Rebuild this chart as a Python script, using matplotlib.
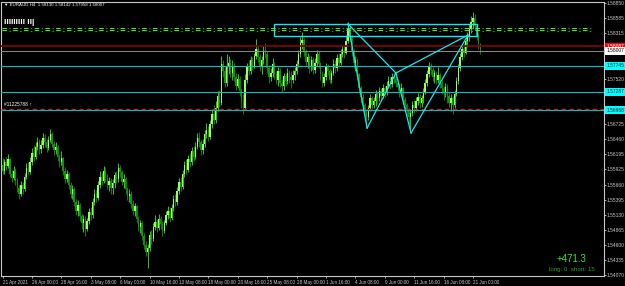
import matplotlib
matplotlib.use('Agg')
import matplotlib.pyplot as plt
import matplotlib.transforms as mtransforms
from matplotlib.patches import Rectangle

plt.rcParams['font.family'] = ['Liberation Sans', 'DejaVu Sans']

# ---------------- data (EURAUD H4) ----------------
header = "\u25BC EURAUD,H4  1.58130 1.58142 1.57958 1.58007"
first_open = 1.5600
close = [1.5590,1.5605,1.5598,1.5610,1.5585,1.5578,1.5590,1.5572,1.5560,1.5550,
         1.5565,1.5558,1.5580,1.5595,1.5588,1.5605,1.5622,1.5615,1.5632,1.5640,
         1.5628,1.5636,1.5648,1.5640,1.5630,1.5645,1.5655,1.5638,1.5626,1.5632,
         1.5615,1.5605,1.5612,1.5590,1.5576,1.5585,1.5565,1.5550,1.5558,1.5535,
         1.5520,1.5530,1.5510,1.5498,1.5505,1.5488,1.5502,1.5518,1.5512,1.5535,
         1.5550,1.5542,1.5565,1.5580,1.5572,1.5590,1.5578,1.5565,1.5572,1.5560,
         1.5568,1.5582,1.5575,1.5595,1.5588,1.5570,1.5576,1.5558,1.5545,1.5550,
         1.5532,1.5520,1.5528,1.5505,1.5492,1.5498,1.5475,1.5460,1.5448,1.5455,
         1.5478,1.5470,1.5492,1.5500,1.5490,1.5505,1.5496,1.5484,1.5498,1.5512,
         1.5520,1.5508,1.5525,1.5540,1.5535,1.5555,1.5570,1.5562,1.5585,1.5600,
         1.5592,1.5610,1.5605,1.5625,1.5615,1.5632,1.5648,1.5640,1.5626,1.5638,
         1.5655,1.5662,1.5650,1.5672,1.5690,1.5680,1.5700,1.5722,1.5710,1.5778,
         1.5765,1.5745,1.5772,1.5780,1.5762,1.5775,1.5755,1.5740,1.5752,1.5730,
         1.5712,1.5700,1.5750,1.5772,1.5765,1.5785,1.5775,1.5792,1.5805,1.5790,
         1.5772,1.5785,1.5800,1.5795,1.5770,1.5755,1.5762,1.5778,1.5760,1.5750,
         1.5765,1.5745,1.5740,1.5756,1.5748,1.5762,1.5755,1.5750,1.5758,1.5765,
         1.5778,1.5795,1.5815,1.5820,1.5800,1.5782,1.5790,1.5772,1.5785,1.5768,
         1.5780,1.5795,1.5778,1.5760,1.5745,1.5755,1.5772,1.5765,1.5750,1.5762,
         1.5778,1.5770,1.5788,1.5780,1.5796,1.5805,1.5798,1.5818,1.5840,1.5825,
         1.5800,1.5780,1.5785,1.5760,1.5735,1.5720,1.5705,1.5692,1.5685,1.5700,
         1.5718,1.5705,1.5712,1.5725,1.5718,1.5730,1.5722,1.5735,1.5728,1.5740,
         1.5748,1.5742,1.5755,1.5752,1.5745,1.5738,1.5730,1.5735,1.5715,1.5705,
         1.5695,1.5685,1.5692,1.5705,1.5700,1.5712,1.5720,1.5710,1.5718,1.5728,
         1.5745,1.5760,1.5775,1.5768,1.5755,1.5762,1.5750,1.5758,1.5745,1.5735,
         1.5728,1.5738,1.5722,1.5710,1.5718,1.5705,1.5725,1.5748,1.5770,1.5790,
         1.5805,1.5798,1.5818,1.5825,1.5840,1.5852,1.5858,1.5845,1.5825,1.5813,1.58007]
high = [1.5612,1.5610,1.5615,1.5620,1.5612,1.5592,1.5598,1.5595,1.5578,1.5566,
        1.5572,1.5570,1.5586,1.5603,1.5606,1.5614,1.5630,1.5635,1.5640,1.5650,
        1.5646,1.5644,1.5656,1.5654,1.5646,1.5652,1.5664,1.5658,1.5642,1.5640,
        1.5636,1.5620,1.5625,1.5615,1.5596,1.5592,1.5588,1.5570,1.5565,1.5562,
        1.5540,1.5538,1.5534,1.5515,1.5512,1.5510,1.5508,1.5524,1.5526,1.5542,
        1.5558,1.5556,1.5572,1.5590,1.5588,1.5598,1.5596,1.5584,1.5580,1.5578,
        1.5576,1.5588,1.5590,1.5604,1.5600,1.5592,1.5584,1.5580,1.5562,1.5558,
        1.5555,1.5538,1.5534,1.5530,1.5510,1.5504,1.5502,1.5480,1.5466,1.5462,
        1.5484,1.5486,1.5498,1.5512,1.5506,1.5514,1.5510,1.5502,1.5504,1.5520,
        1.5528,1.5526,1.5532,1.5548,1.5550,1.5562,1.5578,1.5580,1.5592,1.5608,
        1.5610,1.5618,1.5622,1.5632,1.5634,1.5640,1.5656,1.5658,1.5645,1.5646,
        1.5662,1.5675,1.5668,1.5680,1.5698,1.5705,1.5712,1.5730,1.5732,1.5792,
        1.5785,1.5772,1.5795,1.5792,1.5786,1.5784,1.5780,1.5762,1.5760,1.5756,
        1.5736,1.5725,1.5760,1.5780,1.5785,1.5792,1.5790,1.5798,1.5822,1.5810,
        1.5795,1.5792,1.5810,1.5815,1.5800,1.5776,1.5770,1.5788,1.5782,1.5766,
        1.5772,1.5770,1.5752,1.5762,1.5762,1.5770,1.5768,1.5765,1.5768,1.5772,
        1.5784,1.5802,1.5825,1.5834,1.5824,1.5805,1.5798,1.5794,1.5792,1.5790,
        1.5788,1.5802,1.5800,1.5782,1.5765,1.5762,1.5780,1.5778,1.5770,1.5768,
        1.5786,1.5784,1.5795,1.5798,1.5805,1.5812,1.5810,1.5828,1.5852,1.5846,
        1.5828,1.5805,1.5792,1.5788,1.5762,1.5740,1.5725,1.5710,1.5698,1.5706,
        1.5725,1.5722,1.5720,1.5732,1.5730,1.5738,1.5735,1.5742,1.5740,1.5748,
        1.5756,1.5755,1.5762,1.5764,1.5766,1.5752,1.5744,1.5745,1.5738,1.5720,
        1.5710,1.5700,1.5698,1.5712,1.5715,1.5720,1.5726,1.5725,1.5724,1.5735,
        1.5752,1.5768,1.5782,1.5780,1.5772,1.5768,1.5765,1.5772,1.5762,1.5750,
        1.5740,1.5745,1.5742,1.5728,1.5725,1.5722,1.5732,1.5755,1.5778,1.5798,
        1.5812,1.5815,1.5825,1.5834,1.5848,1.5862,1.5870,1.5865,1.5848,1.5832,1.58142]
low = [1.5585,1.5584,1.5592,1.5595,1.5580,1.5570,1.5574,1.5565,1.5552,1.5540,
       1.5546,1.5550,1.5555,1.5576,1.5582,1.5584,1.5600,1.5608,1.5610,1.5626,
       1.5620,1.5622,1.5630,1.5632,1.5624,1.5626,1.5640,1.5632,1.5618,1.5620,
       1.5608,1.5596,1.5600,1.5582,1.5568,1.5570,1.5558,1.5542,1.5540,1.5528,
       1.5512,1.5510,1.5502,1.5488,1.5482,1.5475,1.5484,1.5496,1.5504,1.5508,
       1.5530,1.5535,1.5538,1.5560,1.5565,1.5568,1.5570,1.5558,1.5555,1.5550,
       1.5550,1.5560,1.5568,1.5570,1.5580,1.5565,1.5560,1.5550,1.5538,1.5536,
       1.5525,1.5512,1.5510,1.5498,1.5484,1.5480,1.5468,1.5452,1.5440,1.5420,
       1.5450,1.5462,1.5466,1.5486,1.5482,1.5486,1.5488,1.5476,1.5480,1.5494,
       1.5506,1.5500,1.5504,1.5520,1.5528,1.5530,1.5550,1.5555,1.5558,1.5580,
       1.5585,1.5588,1.5596,1.5600,1.5608,1.5610,1.5628,1.5632,1.5618,1.5620,
       1.5632,1.5648,1.5642,1.5646,1.5666,1.5672,1.5675,1.5696,1.5702,1.5705,
       1.5755,1.5738,1.5740,1.5760,1.5755,1.5750,1.5748,1.5732,1.5735,1.5722,
       1.5700,1.5690,1.5698,1.5745,1.5758,1.5760,1.5768,1.5770,1.5786,1.5782,
       1.5765,1.5760,1.5778,1.5788,1.5762,1.5745,1.5748,1.5755,1.5752,1.5742,
       1.5740,1.5738,1.5728,1.5732,1.5740,1.5742,1.5744,1.5735,1.5745,1.5750,
       1.5760,1.5772,1.5790,1.5805,1.5792,1.5775,1.5770,1.5762,1.5765,1.5760,
       1.5762,1.5775,1.5770,1.5750,1.5737,1.5740,1.5750,1.5758,1.5744,1.5745,
       1.5758,1.5762,1.5766,1.5772,1.5776,1.5790,1.5788,1.5796,1.5815,1.5818,
       1.5792,1.5770,1.5765,1.5750,1.5726,1.5710,1.5696,1.5682,1.5666,1.5680,
       1.5696,1.5698,1.5700,1.5704,1.5708,1.5712,1.5715,1.5718,1.5720,1.5724,
       1.5736,1.5734,1.5738,1.5745,1.5738,1.5730,1.5720,1.5722,1.5708,1.5696,
       1.5686,1.5672,1.5658,1.5686,1.5692,1.5695,1.5705,1.5700,1.5702,1.5710,
       1.5725,1.5740,1.5755,1.5758,1.5748,1.5745,1.5742,1.5745,1.5736,1.5725,
       1.5715,1.5720,1.5710,1.5702,1.5695,1.5690,1.5700,1.5722,1.5742,1.5765,
       1.5785,1.5790,1.5795,1.5808,1.5818,1.5832,1.5840,1.5838,1.5820,1.5805,1.57958]

date_tick_bars = [0, 16, 32, 48, 64, 80, 96, 112, 128, 144, 160, 176, 192, 208, 224, 240, 256]
date_labels = ["21 Apr 2021", "26 Apr 00:00", "28 Apr 16:00", "3 May 08:00", "6 May 00:00",
               "10 May 16:00", "13 May 08:00", "18 May 00:00", "20 May 16:00", "25 May 08:00",
               "28 May 00:00", "1 Jun 16:00", "4 Jun 08:00", "9 Jun 00:00", "11 Jun 16:00",
               "16 Jun 08:00", "21 Jun 00:00"]
price_tick_labels = ["1.58850", "1.58585", "1.58315", "1.57520", "1.56725", "1.56460",
                     "1.56195", "1.55925", "1.55660", "1.55395", "1.55130", "1.54865",
                     "1.54600", "1.54335", "1.54070"]

# horizontal levels
red_level = 1.58087
bid_level = 1.58007
cyan_levels = [1.57745, 1.57287, 1.56968]
red_dash_level = 1.56990
marker_row_level = 1.5839

# harmonic pattern points (bar index, price) and zone rectangle
pattern_bars = [188.0, 198.4, 214.1, 222.3, 253.3]
pattern_prices = [1.58481, 1.56653, 1.57620, 1.56565, 1.58288]
zone_bars = [147.8, 258.2]
zone_prices = [1.58279, 1.58481]

profit_text = "+471.3"
trades_text = "long: 0  short: 15"

# ---------------- figure ----------------
W, H = 625, 286
fig = plt.figure(figsize=(W / 100, H / 100), dpi=100, facecolor='black')
ax_l, ax_r, ax_t, ax_b = 1, 604, 2, 276
ax = fig.add_axes([ax_l / W, (H - ax_b) / H, (ax_r - ax_l) / W, (ax_b - ax_t) / H])
ax.set_facecolor('black')
ax.set_xlim(-0.82, 327.3)
ax.set_ylim(1.54052, 1.58868)

axis_col = '#c8c8c8'
for s in ax.spines.values():
    s.set_color(axis_col)
    s.set_linewidth(0.8)

# candles
opens = [first_open] + close[:-1]
bull_body, bull_wick = '#98ff58', '#3fe01c'
bear_col = '#10940f'
for i, (o, c, h, l) in enumerate(zip(opens, close, high, low)):
    bull = c >= o
    col_w = bull_wick if bull else bear_col
    col_b = bull_body if bull else bear_col
    top = max(h, o, c)
    bot = min(l, o, c)
    ax.vlines(i, bot, top, colors=col_w, linewidth=0.6, zorder=2)
    hgt = abs(c - o)
    ax.bar(i, max(hgt, 0.00004), bottom=min(o, c), width=0.75, color=col_b,
           linewidth=0, zorder=2.1)

# levels
ax.axhline(red_level, color='#7a0606', linewidth=1.3, zorder=3)
ax.axhline(bid_level, color='#8c8c8c', linewidth=0.7, zorder=3)
for lv in cyan_levels:
    ax.axhline(lv, color='#10b8c8', linewidth=0.8, zorder=3)
ax.axhline(red_dash_level, color='#e01010', linewidth=0.8, linestyle=(0, (4, 3)), zorder=3.1)

# pattern
pc = '#10e8f8'
segs = [(0, 1), (1, 2), (0, 2), (2, 3), (3, 4), (2, 4)]
for a, b in segs:
    ax.plot([pattern_bars[a], pattern_bars[b]], [pattern_prices[a], pattern_prices[b]],
            color=pc, linewidth=0.9, zorder=4)
ax.add_patch(Rectangle((zone_bars[0], zone_prices[0]), zone_bars[1] - zone_bars[0],
                       zone_prices[1] - zone_prices[0], fill=False, edgecolor=pc,
                       linewidth=1.0, zorder=4))

# marker row (signals) across the chart
trans_row = mtransforms.blended_transform_factory(ax.transAxes, ax.transData)
ax.text(0.002, marker_row_level, "= " * 55, transform=trans_row, family='DejaVu Sans Mono',
        fontsize=6.5, color='#5cf03a', va='center', ha='left', fontweight='bold', zorder=5)
ax.text(0.002, marker_row_level, " :" * 55, transform=trans_row, family='DejaVu Sans Mono',
        fontsize=6.5, color='#1aa81a', va='center', ha='left', fontweight='bold', zorder=5)

# axes ticks
ax.yaxis.tick_right()
ax.set_yticks([float(s) for s in price_tick_labels])
ax.set_yticklabels(price_tick_labels)
ax.tick_params(axis='y', direction='out', length=1.5, width=0.6, colors=axis_col,
               labelsize=3.55, pad=0.6)
ax.set_xticks(date_tick_bars)
ax.set_xticklabels(date_labels)
ax.tick_params(axis='x', direction='out', length=1.6, width=0.6, colors=axis_col,
               labelsize=3.3, pad=1.0)
for t in ax.get_xticklabels():
    t.set_ha('left')

# right-side level labels
ytr = ax.get_yaxis_transform()
def level_label(val, fc, tc):
    ax.text(1.0045, val, f"{val:.5f}", transform=ytr, fontsize=3.55, color=tc, ha='left',
            va='center', clip_on=False, zorder=6,
            bbox=dict(boxstyle='square,pad=0.25', facecolor=fc, edgecolor='none'))
level_label(red_level, '#ff0000', 'white')
level_label(bid_level, 'white', 'black')
for lv in cyan_levels:
    level_label(lv, '#00ffff', '#102030')

# texts
fig.text(4 / W, 1 - 5 / H, header, fontsize=3.2, color='white', ha='left', va='center')
fig.text(4 / W, 1 - 23 / H, "lllIIIlll Il|", fontsize=6, color='white', ha='left',
         va='center', fontweight='bold')
fig.text(4 / W, 1 - 105 / H, "#11225788 \u2191", fontsize=3.4, color='white', ha='left',
         va='center')
fig.text(571 / W, 1 - 259 / H, profit_text, fontsize=7, color='#2ee82e', ha='center',
         va='center')
fig.text(572 / W, 1 - 270 / H, trades_text, fontsize=4.4, color='#22a822', ha='center',
         va='center')

fig.savefig('out.png', dpi=100, facecolor='black')
